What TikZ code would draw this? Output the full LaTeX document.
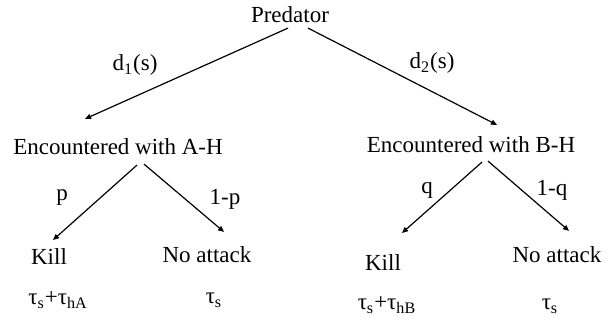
\documentclass[tikz,border=0pt]{standalone}
\usepackage{fontspec}
\setmainfont{Liberation Serif}
\usetikzlibrary{arrows.meta}
\tikzset{txt/.style={inner sep=0,outer sep=0,font=\fontsize{11.5}{13}\selectfont},
	br/.style={line width=.6pt,-{Triangle[length=3pt,width=2.6pt]}}}
\begin{document}
\begin{tikzpicture}[x=.5pt,y=-.5pt]
		\useasboundingbox (0,0) rectangle (609,322);
		\node[txt] (pred) at (290,15){Predator};
		\node[txt] (encA) at (118,147){Encountered with A-H};
		\node[txt] (encB) at (471,145){Encountered with B-H};
		\node[txt] (killA) at (49,257){Kill};
		\node[txt] (noA) at (207,255){No attack};
		\node[txt] (killB) at (383,263){Kill};
		\node[txt] (noB) at (557,255){No attack};
		\node[txt] (tkA) at (58,300){τ\textsubscript{s}+τ\textsubscript{hA}};
		\node[txt] (tnA) at (214,300){τ\textsubscript{s}};
		\node[txt] (tkB) at (387,305){τ\textsubscript{s}+τ\textsubscript{hB}};
		\node[txt] (tnB) at (550,306){τ\textsubscript{s}};
		\node[txt] (dA) at (135,65){d\textsubscript{1}(s)};
		\node[txt] (dB) at (432,63){d\textsubscript{2}(s)};
		\node[txt] (pA) at (62,198){p};
		\node[txt] (qA) at (225,199){1-p};
		\node[txt] (pB) at (427,190){q};
		\node[txt] (qB) at (552,190){1-q};
		\draw[br] ([xshift=-1pt,yshift=-2.5pt]pred.south)--([xshift=-16.5pt,yshift=10pt]encA.north);
		\draw[br] ([xshift=9pt,yshift=-2.5pt]pred.south)--([xshift=13pt,yshift=6pt]encB.north);
		\draw[br] ([xshift=9.5pt,yshift=-5pt]encA.south)--([xshift=2pt,yshift=4.5pt]killA.north);
		\draw[br] ([xshift=13pt,yshift=-4.5pt]encA.south)--([xshift=8.5pt,yshift=7.5pt]noA.north);
		\draw[br] ([xshift=5.5pt,yshift=-4.5pt]encB.south)--([xshift=9.5pt,yshift=11pt]killB.north);
		\draw[br] ([xshift=8.5pt,yshift=-4pt]encB.south)--([xshift=6pt,yshift=8pt]noB.north);
	\end{tikzpicture}
\end{document}
